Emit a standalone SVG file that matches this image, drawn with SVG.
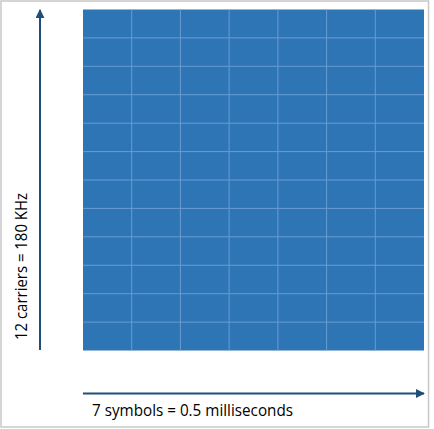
<svg xmlns="http://www.w3.org/2000/svg" width="434" height="429" viewBox="0 0 434 429">
<defs>
<style>
.grid{stroke:#6A9CD0;stroke-width:1;fill:none}
.axis{stroke:#1F4E79;stroke-width:2;fill:none}
.lbl{font-family:"Open Sans","Liberation Sans",sans-serif;font-size:16.5px;fill:#000}
</style>
<marker id="ah" viewBox="0 0 10 10" refX="9" refY="5" markerWidth="4.5" markerHeight="4.5" orient="auto" markerUnits="strokeWidth">
<path d="M0,0 L10,5 L0,10 z" fill="#1F4E79"/>
</marker>
</defs>
<rect x="1" y="1" width="427.5" height="426" fill="#fff" stroke="#C8C8C8" stroke-width="1.5"/>
<g id="grid">
<rect x="83" y="9.5" width="341" height="341" fill="#2E75B6"/>
<path class="grid" d="M131.7,9.5V350.5M180.4,9.5V350.5M229.1,9.5V350.5M277.9,9.5V350.5M326.6,9.5V350.5M375.3,9.5V350.5
M83,37.9H424M83,66.3H424M83,94.75H424M83,123.2H424M83,151.6H424M83,180H424M83,208.4H424M83,236.8H424M83,265.25H424M83,293.7H424M83,322.1H424"/>
</g>
<g id="connectors">
<line class="axis" x1="40" y1="350" x2="40" y2="10" marker-end="url(#ah)"/>
<line class="axis" x1="83" y1="393.5" x2="424" y2="393.5" marker-end="url(#ah)"/>
</g>
<g id="labels">
<text class="lbl" x="92" y="416" textLength="201" lengthAdjust="spacingAndGlyphs">7 symbols = 0.5 milliseconds</text>
<text class="lbl" transform="translate(27,340) rotate(-90)" x="0" y="0" textLength="147" lengthAdjust="spacingAndGlyphs">12 carriers = 180 KHz</text>
</g>
</svg>
